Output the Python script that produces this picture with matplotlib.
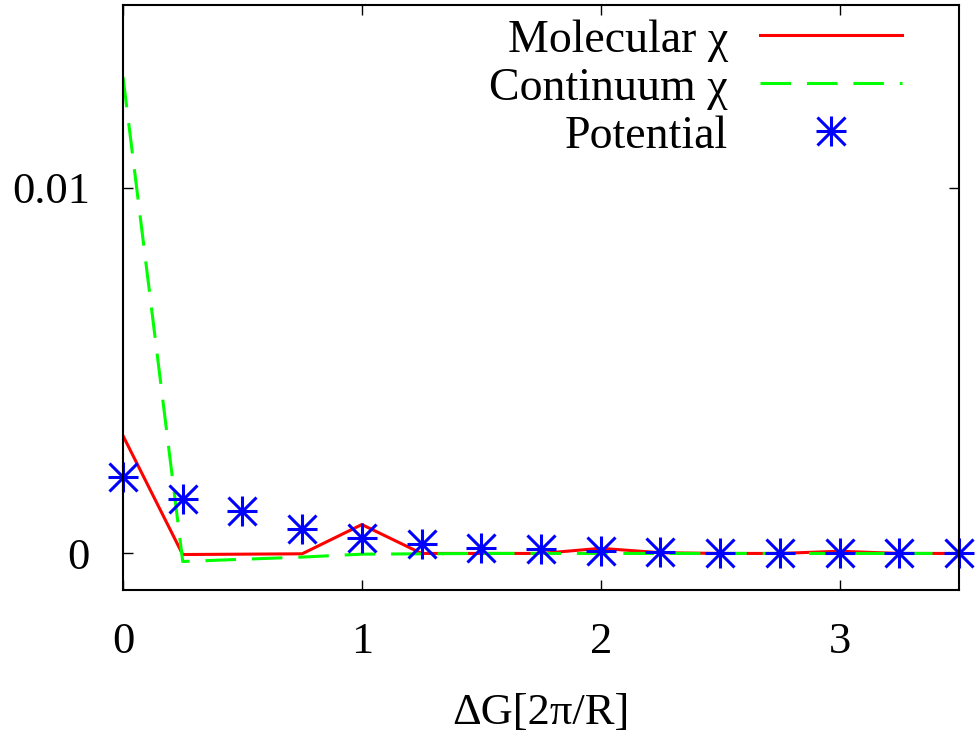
import numpy as np
import matplotlib
matplotlib.use('Agg')
import matplotlib.pyplot as plt
from matplotlib.legend_handler import HandlerTuple

plt.rcParams['font.family'] = ['Liberation Serif', 'DejaVu Serif']

# datos
dG = [0.0, 0.25, 0.5, 0.75, 1.0, 1.25, 1.5, 1.75, 2.0, 2.25, 2.5, 2.75, 3.0, 3.25, 3.5]
molecular = [0.00322, -0.00003, -0.00002, -0.00001, 0.00079, 0.0, 0.0, 0.0,
             0.00014, 0.00002, 0.0, 0.0, 0.00006, 0.0, 0.0]
continuum = [0.01303, -0.00022, -0.00016, -0.0001, -0.00002, -0.00001, 0.0, 0.0,
             0.0, 0.0, 0.0, 0.0, 0.0, 0.0, 0.0]
potential = [0.00208, 0.0015, 0.00115, 0.00068, 0.00041, 0.00027, 0.00016, 0.00011,
             0.00006, 0.00003, 0.00002, 0.00001, 0.00001, 0.0, 0.0]

fs = 32
fig = plt.figure(figsize=(9.77, 7.34), dpi=100)
ax = fig.add_axes([123/977, 1-590/734, (959-123)/977, (590-5)/734])

l1, = ax.plot(dG, molecular, color='#ff0000', lw=2.2, label='Molecular χ')
l2, = ax.plot(dG, continuum, color='#00ff00', lw=2.2, dashes=(10, 5.2), label='Continuum χ')
p1, = ax.plot(dG, potential, ls='none', marker='+', ms=22, mew=2.2, color='#0000ff', clip_on=False)
p2, = ax.plot(dG, potential, ls='none', marker='x', ms=20, mew=2.2, color='#0000ff', clip_on=False)

ax.set_xlim(0, 3.5)
ax.set_ylim(-0.001, 0.015)
ax.set_xticks([0, 1, 2, 3])
ax.set_xticklabels(['0', '1', '2', '3'])
ax.set_yticks([0, 0.01])
ax.set_yticklabels(['0', '0.01'])
ax.tick_params(direction='in', length=7, width=1, top=True, right=True, labelsize=fs)
ax.tick_params(axis='x', pad=23)
ax.tick_params(axis='y', pad=24)
for s in ax.spines.values():
    s.set_linewidth(1.5)

ax.set_xlabel('ΔG[2π/R]', fontsize=fs, labelpad=22)

ax.legend([l1, l2, (p1, p2)], ['Molecular χ', 'Continuum χ', 'Potential'],
          handler_map={tuple: HandlerTuple(ndivide=1)},
          loc='upper right', bbox_to_anchor=(0.932, 0.976), borderpad=0, borderaxespad=0,
          frameon=False, markerfirst=False, fontsize=33, handlelength=3.1,
          handletextpad=0.7, labelspacing=0.12)

fig.savefig('out.png', dpi=100)
